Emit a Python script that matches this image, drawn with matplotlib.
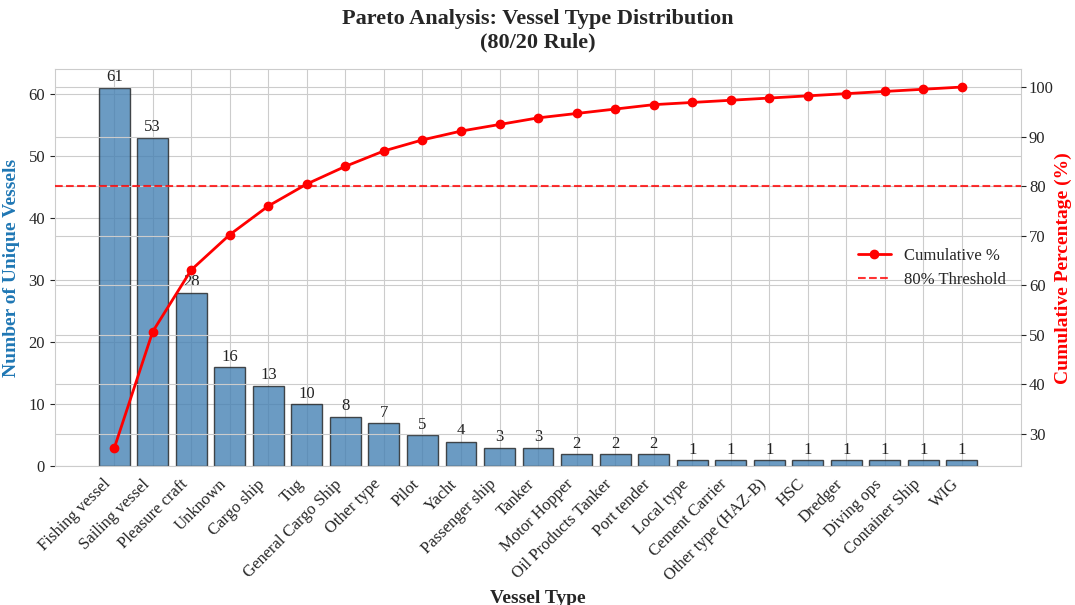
import matplotlib
matplotlib.use("Agg")
import matplotlib.pyplot as plt
import seaborn as sns
import numpy as np

categories = ["Fishing vessel", "Sailing vessel", "Pleasure craft", "Unknown", "Cargo ship",
              "Tug", "General Cargo Ship", "Other type", "Pilot", "Yacht", "Passenger ship",
              "Tanker", "Motor Hopper", "Oil Products Tanker", "Port tender", "Local type",
              "Cement Carrier", "Other type (HAZ-B)", "HSC", "Dredger", "Diving ops",
              "Container Ship", "WIG"]
counts = [61, 53, 28, 16, 13, 10, 8, 7, 5, 4, 3, 3, 2, 2, 2, 1, 1, 1, 1, 1, 1, 1, 1]

sns.set_style("whitegrid")
plt.rcParams["font.family"] = ["Liberation Serif", "DejaVu Serif"]

counts_arr = np.array(counts)
cum_pct = np.cumsum(counts_arr) / counts_arr.sum() * 100
x = np.arange(len(categories))

fig = plt.figure(figsize=(10.75, 6.05), dpi=100)
ax1 = fig.add_axes([0.051, 0.229, 0.899, 0.657])
ax1.bar(x, counts_arr, width=0.8, color="steelblue", alpha=0.8,
        edgecolor="#222222", linewidth=1.0)
for xi, v in zip(x, counts_arr):
    ax1.text(xi, v + 0.4, str(v), ha="center", va="bottom", fontsize=12, color="#222222")
ax1.set_ylim(0, counts_arr.max() * 1.05)
ax1.set_xticks(x)
ax1.set_xticklabels(categories, rotation=45, ha="right", fontsize=12)
ax1.tick_params(axis="y", labelsize=12)
ax1.set_xlabel("Vessel Type", fontsize=14, fontweight="bold")
ax1.set_ylabel("Number of Unique Vessels", fontsize=14, fontweight="bold", color="tab:blue",
               labelpad=6)

ax2 = ax1.twinx()
l1, = ax2.plot(x, cum_pct, color="red", marker="o", markersize=6, linewidth=2,
               label="Cumulative %")
l2 = ax2.axhline(80, color="red", linestyle="--", linewidth=1.5, alpha=0.8,
                 label="80% Threshold")
ax2.set_ylabel("Cumulative Percentage (%)", fontsize=14, fontweight="bold", color="red",
               labelpad=1)
ax2.tick_params(axis="y", labelsize=12, pad=2)
for sp in ax2.spines.values():
    sp.set_visible(False)

ax2.legend(handles=[l1, l2], loc="center right", fontsize=12, frameon=False)

fig.suptitle("Pareto Analysis: Vessel Type Distribution\n(80/20 Rule)",
             fontsize=16, fontweight="bold", y=0.985)

fig.savefig("out.png", dpi=100)
